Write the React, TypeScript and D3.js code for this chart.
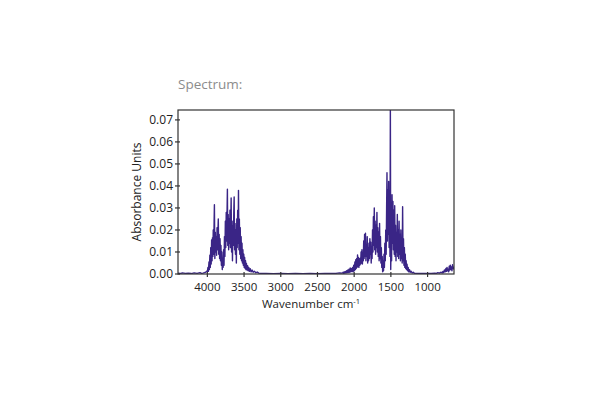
import React from "react";
import * as d3 from "d3";

// absorbance spectrum: [wavenumber cm-1, absorbance]
const baselineHigh: [number, number][] = [
  [4400, 0.0004], [4370, 0.0002], [4340, 0.0005], [4300, 0.0003], [4260, 0.0004],
  [4220, 0.0002], [4180, 0.0005], [4140, 0.0003], [4100, 0.0006], [4080, 0.0003],
];

const ohStretch: [number, number][] = [
  [4060, 0.0004], [4040, 0.0006], [4020, 0.0009], [4010, 0.0013], [4000, 0.001],
  [3992, 0.003], [3986, 0.0012], [3978, 0.0055], [3972, 0.002], [3966, 0.0085],
  [3960, 0.003], [3954, 0.012], [3948, 0.0045], [3942, 0.0155], [3936, 0.006],
  [3930, 0.0165], [3925, 0.008], [3920, 0.02], [3914, 0.009], [3908, 0.024],
  [3904, 0.0315], [3898, 0.007], [3892, 0.019], [3886, 0.01], [3880, 0.017],
  [3874, 0.0085], [3868, 0.021], [3862, 0.011], [3856, 0.0195], [3851, 0.025],
  [3845, 0.009], [3839, 0.018], [3833, 0.007], [3827, 0.016], [3821, 0.006],
  [3815, 0.013], [3809, 0.004], [3803, 0.01], [3797, 0.002], [3791, 0.006],
  [3785, 0.003], [3779, 0.011], [3773, 0.004], [3767, 0.017], [3761, 0.008],
  [3755, 0.024], [3749, 0.012], [3743, 0.028], [3737, 0.015], [3731, 0.03],
  [3727, 0.0385], [3722, 0.013], [3716, 0.027], [3710, 0.011], [3704, 0.025],
  [3698, 0.014], [3692, 0.029], [3686, 0.012], [3680, 0.026], [3676, 0.0345],
  [3670, 0.01], [3664, 0.022], [3658, 0.006], [3652, 0.024], [3646, 0.013],
  [3640, 0.028], [3635, 0.035], [3629, 0.011], [3623, 0.023], [3617, 0.009],
  [3611, 0.02], [3605, 0.005], [3599, 0.025], [3593, 0.012], [3587, 0.029],
  [3581, 0.014], [3576, 0.038], [3570, 0.011], [3564, 0.025], [3558, 0.009],
  [3552, 0.021], [3546, 0.007], [3540, 0.017], [3534, 0.006], [3528, 0.014],
  [3522, 0.005], [3516, 0.011], [3510, 0.004], [3504, 0.009], [3498, 0.003],
  [3492, 0.0075], [3486, 0.0025], [3480, 0.006], [3474, 0.002], [3468, 0.0048],
  [3460, 0.0018], [3452, 0.0038], [3444, 0.0015], [3436, 0.003], [3426, 0.0012],
  [3416, 0.0024], [3404, 0.001], [3390, 0.0018], [3376, 0.0008], [3360, 0.0013],
  [3340, 0.0006], [3320, 0.0009], [3300, 0.0004],
];

const baselineMid: [number, number][] = [
  [3250, 0.0002], [3200, 0.0003], [3100, 0.0001], [3000, 0.0002], [2900, 0.0001],
  [2800, 0.0002], [2700, 0.0001], [2600, 0.0002], [2500, 0.0001], [2400, 0.0002],
  [2300, 0.0002], [2250, 0.0003], [2200, 0.0005],
];

const bendBand: [number, number][] = [
  [2160, 0.0004], [2150, 0.0008], [2142, 0.0003], [2134, 0.001], [2126, 0.0004],
  [2118, 0.0012], [2110, 0.0005], [2102, 0.0015], [2094, 0.0006], [2086, 0.0018],
  [2078, 0.0007], [2070, 0.0022], [2062, 0.0008], [2054, 0.0027], [2046, 0.001],
  [2038, 0.0024], [2030, 0.0012], [2022, 0.003], [2014, 0.001], [2006, 0.004],
  [1998, 0.0015], [1990, 0.0055], [1984, 0.002], [1978, 0.0065], [1972, 0.0025],
  [1966, 0.007], [1960, 0.003], [1954, 0.0086], [1948, 0.0035], [1942, 0.0075],
  [1936, 0.003], [1930, 0.0068], [1924, 0.004], [1918, 0.0072], [1912, 0.0045],
  [1906, 0.01], [1900, 0.005], [1894, 0.011], [1888, 0.0045], [1882, 0.0095],
  [1876, 0.006], [1870, 0.015], [1864, 0.007], [1858, 0.018], [1852, 0.008],
  [1846, 0.0185], [1840, 0.006], [1834, 0.013], [1828, 0.008], [1822, 0.017],
  [1816, 0.005], [1810, 0.012], [1804, 0.006], [1798, 0.014], [1792, 0.007],
  [1786, 0.016], [1780, 0.009], [1774, 0.0145], [1768, 0.005], [1762, 0.012],
  [1756, 0.007], [1750, 0.02], [1744, 0.01], [1738, 0.026], [1732, 0.013],
  [1726, 0.03], [1720, 0.011], [1714, 0.024], [1708, 0.009], [1702, 0.022],
  [1696, 0.012], [1690, 0.028], [1684, 0.01], [1678, 0.021], [1672, 0.008],
  [1666, 0.019], [1660, 0.006], [1654, 0.023], [1648, 0.007], [1642, 0.017],
  [1636, 0.005], [1630, 0.012], [1624, 0.003], [1618, 0.008], [1612, 0.001],
  [1606, 0.006], [1600, 0.0015], [1594, 0.009], [1588, 0.003], [1582, 0.014],
  [1576, 0.006], [1570, 0.02], [1564, 0.009], [1558, 0.03], [1553, 0.046],
  [1547, 0.015], [1541, 0.038], [1535, 0.018], [1530, 0.042], [1524, 0.012],
  [1518, 0.033], [1512, 0.008], [1507, 0.076], [1502, 0.002], [1496, 0.015],
  [1490, 0.006], [1484, 0.036], [1478, 0.014], [1472, 0.033], [1466, 0.011],
  [1460, 0.029], [1454, 0.009], [1448, 0.031], [1442, 0.008], [1436, 0.022],
  [1430, 0.006], [1424, 0.019], [1418, 0.01], [1412, 0.027], [1406, 0.008],
  [1400, 0.02], [1394, 0.007], [1388, 0.024], [1382, 0.009], [1376, 0.018],
  [1370, 0.006], [1364, 0.02], [1358, 0.007], [1352, 0.015], [1346, 0.005],
  [1340, 0.0306], [1334, 0.006], [1328, 0.016], [1322, 0.004], [1316, 0.012],
  [1310, 0.003], [1304, 0.009], [1298, 0.0025], [1292, 0.006], [1286, 0.002],
  [1280, 0.0045], [1272, 0.0015], [1264, 0.003], [1256, 0.001], [1246, 0.002],
  [1236, 0.0008], [1224, 0.0012], [1210, 0.0005], [1195, 0.0008], [1180, 0.0003],
];

const baselineLow: [number, number][] = [
  [1150, 0.0002], [1100, 0.0003], [1050, 0.0002], [1000, 0.0003], [950, 0.0002],
  [900, 0.0004], [880, 0.0003], [860, 0.0006], [840, 0.0004], [820, 0.0008],
  [800, 0.0005], [790, 0.0012], [780, 0.0006], [770, 0.0018], [760, 0.001],
  [750, 0.0025], [742, 0.0012], [735, 0.003], [728, 0.0015], [720, 0.0022],
  [712, 0.001], [705, 0.0035], [698, 0.0018], [690, 0.004], [684, 0.002],
  [676, 0.0032], [668, 0.0015], [660, 0.0042], [652, 0.0025], [645, 0.003],
  [640, 0.002],
];

const xTicks = [4000, 3500, 3000, 2500, 2000, 1500, 1000];
const yTicks = [0, 0.01, 0.02, 0.03, 0.04, 0.05, 0.06, 0.07];

const spectrum = [...baselineHigh, ...ohStretch, ...baselineMid, ...bendBand, ...baselineLow];

const font = "'Open Sans', sans-serif";

export default function App() {
  const left = 178;
  const right = 454;
  const top = 110;
  const bottom = 274;

  const x = d3.scaleLinear().domain([4400, 640]).range([left, right]);
  const y = d3.scaleLinear().domain([0, 0.0745]).range([bottom, top]);

  const line = d3
    .line<[number, number]>()
    .x((d) => x(d[0]))
    .y((d) => y(d[1]));

  return (
    <svg
      width={600}
      height={400}
      style={{ position: "absolute", left: 0, top: 0, background: "#fff" }}
    >
      <defs>
        <clipPath id="plot">
          <rect x={left} y={top} width={right - left} height={bottom - top} />
        </clipPath>
      </defs>

      <text x={178} y={89} fontFamily={font} fontSize={13.5} fill="#8c8c8c">
        Spectrum:
      </text>

      <path
        d={line(spectrum) || ""}
        fill="none"
        stroke="#3a2586"
        strokeWidth={1.4}
        strokeLinejoin="round"
        clipPath="url(#plot)"
      />

      <rect
        x={left}
        y={top}
        width={right - left}
        height={bottom - top}
        fill="none"
        stroke="#333"
        strokeWidth={1.2}
      />

      {yTicks.map((t) => (
        <g key={t} transform={`translate(${left},${y(t)})`}>
          <line x1={-3} x2={2} stroke="#333" strokeWidth={1.2} />
          <text
            x={-5}
            dy="0.35em"
            textAnchor="end"
            fontFamily={font}
            fontSize={12}
            fill="#222"
          >
            {d3.format(".2f")(t)}
          </text>
        </g>
      ))}

      {xTicks.map((t) => (
        <g key={t} transform={`translate(${x(t)},${bottom})`}>
          <line y1={-2} y2={3} stroke="#333" strokeWidth={1.2} />
          <text
            y={16.5}
            textAnchor="middle"
            fontFamily={font}
            fontSize={11.5}
            fill="#222"
          >
            {t}
          </text>
        </g>
      ))}

      <text
        x={311}
        y={307.5}
        textAnchor="middle"
        fontFamily={font}
        fontSize={11.5}
        fill="#222"
      >
        Wavenumber cm
        <tspan dy={-4} fontSize={7.5}>
          -1
        </tspan>
      </text>

      <text
        transform={`translate(141,${(top + bottom) / 2}) rotate(-90)`}
        textAnchor="middle"
        fontFamily={font}
        fontSize={12}
        fill="#222"
      >
        Absorbance Units
      </text>
    </svg>
  );
}
